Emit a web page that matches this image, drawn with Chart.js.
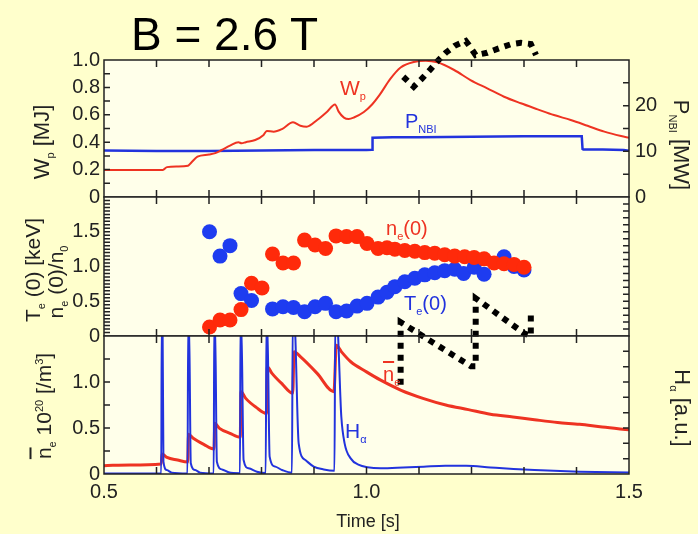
<!DOCTYPE html>
<html lang="en">
<head>
<meta charset="UTF-8">
<title>B = 2.6 T</title>
<script src="https://cdn.jsdelivr.net/npm/chart.js"></script>
<style>
  body { margin: 0; background: #ffffcc; }
  #page { position: relative; width: 698px; height: 534px; overflow: hidden; font-family: "Liberation Sans", Arial, sans-serif; }
  canvas { position: absolute; left: 0; top: 0; }
  .t { position: absolute; white-space: nowrap; line-height: 1; font-size: 20px; color: #222; }
  .rl { transform: translate(-50%, -50%) rotate(-90deg); }
  .rr { transform: translate(-50%, -50%) rotate(90deg); }
  .s { font-size: 11px; position: relative; top: 5px; }
  .u { font-size: 11px; position: relative; top: -8px; }
  .red { color: #ee3322; }
  .blue { color: #2233dd; }
</style>
</head>
<body>
<div id="page">
  <canvas id="c1" width="698" height="534"></canvas>
  <canvas id="c2" width="698" height="534"></canvas>
  <canvas id="c3" width="698" height="534"></canvas>

  <div class="t" style="left:131px; top:11px; font-size:46px; color:#000;">B = 2.6 T</div>

  <!-- axis titles -->
  <div class="t rl" style="left:42px; top:142px; font-size:22px;">W<span class="s">p</span> [MJ]</div>
  <div class="t rr" style="left:681px; top:145px; font-size:22px;">P<span class="s">NBI</span> [MW]</div>
  <div class="t rl" style="left:32px; top:270px; font-size:21px;">T<span class="s">e</span> (0) [keV]</div>
  <div class="t rl" style="left:55px; top:282px; font-size:21px;">n<span class="s">e</span> (0)/n<span class="s">0</span></div>
  <div class="t rl" style="left:43px; top:406px; font-size:21px;"><span style="text-decoration:overline">n</span><span class="s">e</span> 10<span class="u">20</span> [/m<span class="u">3</span>]</div>
  <div class="t rr" style="left:682px; top:408px; font-size:22px;">H<span class="s">α</span> [a.u.]</div>
  <div class="t" style="left:368px; top:521px; font-size:18px; transform:translate(-50%,-50%);">Time [s]</div>

  <!-- curve labels -->
  <div class="t red" style="left:340px; top:77px; font-size:21px;">W<span class="s">p</span></div>
  <div class="t blue" style="left:405px; top:111px;">P<span class="s">NBI</span></div>
  <div class="t red" style="left:386px; top:218px;">n<span class="s">e</span>(0)</div>
  <div class="t blue" style="left:404px; top:293px;">T<span class="s">e</span>(0)</div>
  <div class="t red" style="left:383px; top:364px;"><span style="text-decoration:overline">n</span><span class="s">e</span></div>
  <div class="t blue" style="left:345px; top:420px; font-size:21px;">H<span class="s">α</span></div>
</div>

<script>
// ---- top panel: stored energy and beam power
const wpTime = [0.5, 0.612, 0.62, 0.64, 0.66, 0.666, 0.678, 0.70, 0.712, 0.724, 0.74, 0.756, 0.762, 0.77, 0.788, 0.804, 0.81, 0.823, 0.839, 0.86, 0.874, 0.886, 0.906, 0.925, 0.94, 0.947, 0.957, 0.966, 0.976, 0.995, 1.011, 1.025, 1.045, 1.065, 1.09, 1.113, 1.135, 1.167, 1.198, 1.23, 1.262, 1.294, 1.326, 1.357, 1.389, 1.421, 1.453, 1.485, 1.5];
const wpMJ = [0.197, 0.197, 0.218, 0.222, 0.228, 0.25, 0.294, 0.31, 0.32, 0.343, 0.375, 0.40, 0.392, 0.40, 0.416, 0.453, 0.482, 0.477, 0.496, 0.545, 0.52, 0.513, 0.562, 0.623, 0.676, 0.623, 0.579, 0.569, 0.58, 0.62, 0.677, 0.745, 0.86, 0.945, 0.985, 0.995, 0.983, 0.927, 0.854, 0.793, 0.732, 0.684, 0.64, 0.598, 0.562, 0.52, 0.477, 0.445, 0.433];
const nbiTime = [0.5, 0.6, 0.7, 0.8, 0.9, 1.0, 1.0105, 1.0115, 1.05, 1.1, 1.2, 1.3, 1.41, 1.4115, 1.413, 1.45, 1.49, 1.5];
const nbiMW = [10.2, 10.1, 10.1, 10.2, 10.3, 10.3, 10.35, 13.0, 13.1, 13.1, 13.2, 13.3, 13.3, 10.5, 10.4, 10.4, 10.3, 10.1];

// ---- middle panel: central Te and ne (Thomson points)
const teTime = [0.701, 0.721, 0.740, 0.761, 0.781, 0.821, 0.841, 0.861, 0.882, 0.902, 0.922, 0.942, 0.962, 0.982, 1.001, 1.022, 1.039, 1.054, 1.073, 1.092, 1.111, 1.130, 1.149, 1.168, 1.185, 1.205, 1.224, 1.262, 1.281, 1.300];
const teKeV = [1.50, 1.15, 1.30, 0.61, 0.51, 0.39, 0.42, 0.41, 0.35, 0.42, 0.47, 0.35, 0.36, 0.43, 0.47, 0.56, 0.63, 0.71, 0.78, 0.83, 0.88, 0.91, 0.94, 0.96, 0.90, 0.99, 0.89, 1.14, 1.00, 0.95];
const ne0Time = [0.701, 0.721, 0.740, 0.761, 0.781, 0.801, 0.821, 0.841, 0.861, 0.882, 0.902, 0.922, 0.942, 0.962, 0.982, 1.001, 1.022, 1.039, 1.054, 1.073, 1.092, 1.111, 1.130, 1.149, 1.168, 1.187, 1.205, 1.224, 1.243, 1.262, 1.281, 1.300];
const ne0Norm = [0.13, 0.23, 0.23, 0.38, 0.76, 0.69, 1.18, 1.05, 1.05, 1.38, 1.31, 1.26, 1.44, 1.43, 1.43, 1.33, 1.26, 1.27, 1.25, 1.23, 1.22, 1.20, 1.19, 1.17, 1.15, 1.14, 1.13, 1.11, 1.05, 1.04, 1.03, 0.99];

// ---- bottom panel: line density and H-alpha (pellet spikes)
const nebarTime = [0.50, 0.55, 0.609, 0.6105, 0.62, 0.64, 0.6595, 0.661, 0.67, 0.69, 0.7095, 0.711, 0.72, 0.74, 0.7595, 0.761, 0.77, 0.79, 0.8095, 0.811, 0.82, 0.84, 0.8595, 0.862, 0.874, 0.906, 0.938, 0.9425, 0.952, 0.97, 1.0, 1.027, 1.066, 1.109, 1.151, 1.194, 1.236, 1.279, 1.32, 1.364, 1.406, 1.449, 1.5];
const nebar = [0.091, 0.098, 0.109, 0.217, 0.18, 0.152, 0.13, 0.431, 0.388, 0.322, 0.272, 0.551, 0.496, 0.442, 0.399, 0.895, 0.822, 0.724, 0.659, 1.166, 1.094, 0.975, 0.877, 1.33, 1.275, 1.094, 0.895, 1.40, 1.33, 1.22, 1.11, 1.02, 0.91, 0.82, 0.75, 0.70, 0.65, 0.62, 0.59, 0.56, 0.54, 0.51, 0.48];
const haTime = [0.50, 0.609, 0.6100, 0.6115, 0.6132, 0.6196, 0.6291, 0.659, 0.6605, 0.662, 0.6653, 0.6736, 0.6832, 0.709, 0.7100, 0.7115, 0.7150, 0.7246, 0.7373, 0.759, 0.7600, 0.7615, 0.7659, 0.7754, 0.7913, 0.808, 0.8095, 0.811, 0.8155, 0.8263, 0.8391, 0.858, 0.8595, 0.8625, 0.8708, 0.8836, 0.8995, 0.9186, 0.939, 0.9405, 0.9435, 0.9520, 0.9583, 0.9698, 0.9857, 1.0016, 1.027, 1.07, 1.109, 1.15, 1.19, 1.236, 1.28, 1.32, 1.406, 1.5];
const haAU = [0.03, 0.03, 10, 10, 0.80, 0.26, 0.09, 0.04, 10, 10, 0.70, 0.26, 0.09, 0.04, 10, 10, 0.80, 0.30, 0.11, 0.05, 10, 10, 0.91, 0.37, 0.15, 0.06, 10, 10, 1.13, 0.48, 0.26, 0.08, 10, 10, 2.0, 0.91, 0.48, 0.30, 0.22, 10, 10, 3.75, 2.0, 1.02, 0.59, 0.44, 0.37, 0.42, 0.48, 0.54, 0.54, 0.43, 0.33, 0.26, 0.15, 0.09];

// ---- hand drawn dotted marks on the slide
const markATime = [1.070, 1.090, 1.106, 1.122, 1.136, 1.151, 1.168, 1.189, 1.195, 1.208, 1.230, 1.252, 1.275, 1.294, 1.313, 1.323];
const markAVal = [0.878, 0.805, 0.866, 0.932, 0.995, 1.053, 1.104, 1.139, 1.109, 1.036, 1.053, 1.085, 1.115, 1.126, 1.117, 1.036];
const markBTime = [1.065, 1.065, 1.199, 1.208, 1.208, 1.300, 1.313, 1.313];
const markBVal = [0.97, 1.65, 1.17, 1.17, 1.91, 1.53, 1.50, 1.78];

// ---- tick labels
const timeLabels = [0.5, 1.0, 1.5];
const wpLabels = [0, 0.2, 0.4, 0.6, 0.8, 1.0];
const nbiLabels = [0, 10, 20];
const midLabels = [0, 0.5, 1.0, 1.5];
const neLabels = [0, 0.5, 1.0];

const red = '#ee3322';
const blue = '#2233dd';
const plotBg = '#ffffea';
const ink = '#222';
const tickFont = { family: 'Liberation Sans', size: 20 };

const xy = (ts, vs) => ts.map((t, i) => ({ x: t, y: vs[i] }));
const pick = (labels, fmt) => v => labels.some(l => Math.abs(l - v) < 1e-6) ? fmt(v) : '';
const oneDec = v => Math.abs(v) < 1e-9 ? '0' : v.toFixed(1);
const whole = v => String(Math.round(v));

// panel background, frame and inward tick marks
const framePlugin = {
    id: 'frame',
    beforeDatasetsDraw(chart) {
        const { ctx, chartArea: a } = chart;
        ctx.save();
        ctx.fillStyle = plotBg;
        ctx.fillRect(a.left, a.top, a.right - a.left, a.bottom - a.top);
        ctx.restore();
    },
    afterDatasetsDraw(chart) {
        const { ctx, chartArea: a, scales } = chart;
        ctx.save();
        ctx.strokeStyle = ink;
        ctx.lineWidth = 1.5;
        ctx.beginPath();
        Object.values(scales).forEach(s => {
            s.ticks.forEach(t => {
                const p = s.getPixelForValue(t.value);
                if (s.isHorizontal()) {
                    if (p <= a.left + 1 || p >= a.right - 1) return;
                    ctx.moveTo(p, a.top); ctx.lineTo(p, a.top + 7);
                    ctx.moveTo(p, a.bottom); ctx.lineTo(p, a.bottom - 7);
                } else {
                    if (p <= a.top + 1 || p >= a.bottom - 1) return;
                    const x0 = s.position === 'left' ? a.left : a.right;
                    const d = s.position === 'left' ? 6 : -6;
                    ctx.moveTo(x0, p); ctx.lineTo(x0 + d, p);
                }
            });
        });
        ctx.stroke();
        ctx.strokeRect(a.left, a.top, a.right - a.left, a.bottom - a.top);
        ctx.restore();
    }
};

const xAxis = (shown) => ({
    type: 'linear', min: 0.5, max: 1.5,
    grid: { display: false, drawTicks: false }, border: { display: false },
    ticks: {
        display: shown, stepSize: 0.1, autoSkip: false, maxRotation: 0, padding: 6,
        font: tickFont, color: ink, callback: pick(timeLabels, v => v.toFixed(1))
    },
    afterFit: s => { s.height = shown ? 60 : 0; }
});

const yAxis = (side, min, max, step, labels, fmt) => ({
    type: 'linear', position: side, min: min, max: max,
    grid: { display: false, drawTicks: false }, border: { display: false },
    ticks: {
        display: labels !== null, stepSize: step, autoSkip: false,
        padding: side === 'left' ? 4 : 6, font: tickFont, color: ink,
        callback: labels ? pick(labels, fmt) : () => ''
    },
    afterFit: s => { s.width = side === 'left' ? 104 : 69; }
});

const baseOptions = (padTop, padBottom, scales) => ({
    responsive: false,
    devicePixelRatio: 1,
    animation: false,
    layout: { padding: { top: padTop, bottom: padBottom, left: 0, right: 0 } },
    plugins: { legend: { display: false }, tooltip: { enabled: false } },
    elements: { point: { radius: 0 } },
    scales: scales
});

const dotted = {
    borderColor: '#000', borderWidth: 6, borderDash: [6, 6],
    pointRadius: 0, clip: false, tension: 0
};

new Chart(document.getElementById('c1'), {
    type: 'line',
    data: {
        datasets: [
            { ...dotted, data: xy(markATime, markAVal), yAxisID: 'y' },
            { data: xy(wpTime, wpMJ), yAxisID: 'y', borderColor: red, borderWidth: 2, cubicInterpolationMode: 'monotone' },
            { data: xy(nbiTime, nbiMW), yAxisID: 'yr', borderColor: blue, borderWidth: 2.5 }
        ]
    },
    options: baseOptions(60, 337, {
        x: xAxis(false),
        y: yAxis('left', 0, 1, 0.1, wpLabels, oneDec),
        yr: yAxis('right', 0, 30, 5, nbiLabels, whole)
    }),
    plugins: [framePlugin]
});

new Chart(document.getElementById('c2'), {
    type: 'line',
    data: {
        datasets: [
            { data: xy(ne0Time, ne0Norm), yAxisID: 'y', showLine: false, pointRadius: 7.5, pointBorderWidth: 0, pointBackgroundColor: '#ff2a0a' },
            { data: xy(teTime, teKeV), yAxisID: 'y', showLine: false, pointRadius: 7.5, pointBorderWidth: 0, pointBackgroundColor: '#1e3cf0' }
        ]
    },
    options: baseOptions(197, 198, {
        x: xAxis(false),
        y: yAxis('left', 0, 2, 0.05, midLabels, oneDec),
        yr: yAxis('right', 0, 2, 0.1, null, null)
    }),
    plugins: [framePlugin]
});

new Chart(document.getElementById('c3'), {
    type: 'line',
    data: {
        datasets: [
            { ...dotted, data: xy(markBTime, markBVal), yAxisID: 'y' },
            { data: xy(haTime, haAU), yAxisID: 'yr', borderColor: blue, borderWidth: 2, cubicInterpolationMode: 'monotone' },
            { data: xy(nebarTime, nebar), yAxisID: 'y', borderColor: red, borderWidth: 3, cubicInterpolationMode: 'monotone' }
        ]
    },
    options: baseOptions(336, 0, {
        x: xAxis(true),
        y: yAxis('left', 0, 1.5, 0.25, neLabels, oneDec),
        yr: yAxis('right', 0, 9, 1, null, null)
    }),
    plugins: [framePlugin]
});
</script>
</body>
</html>
